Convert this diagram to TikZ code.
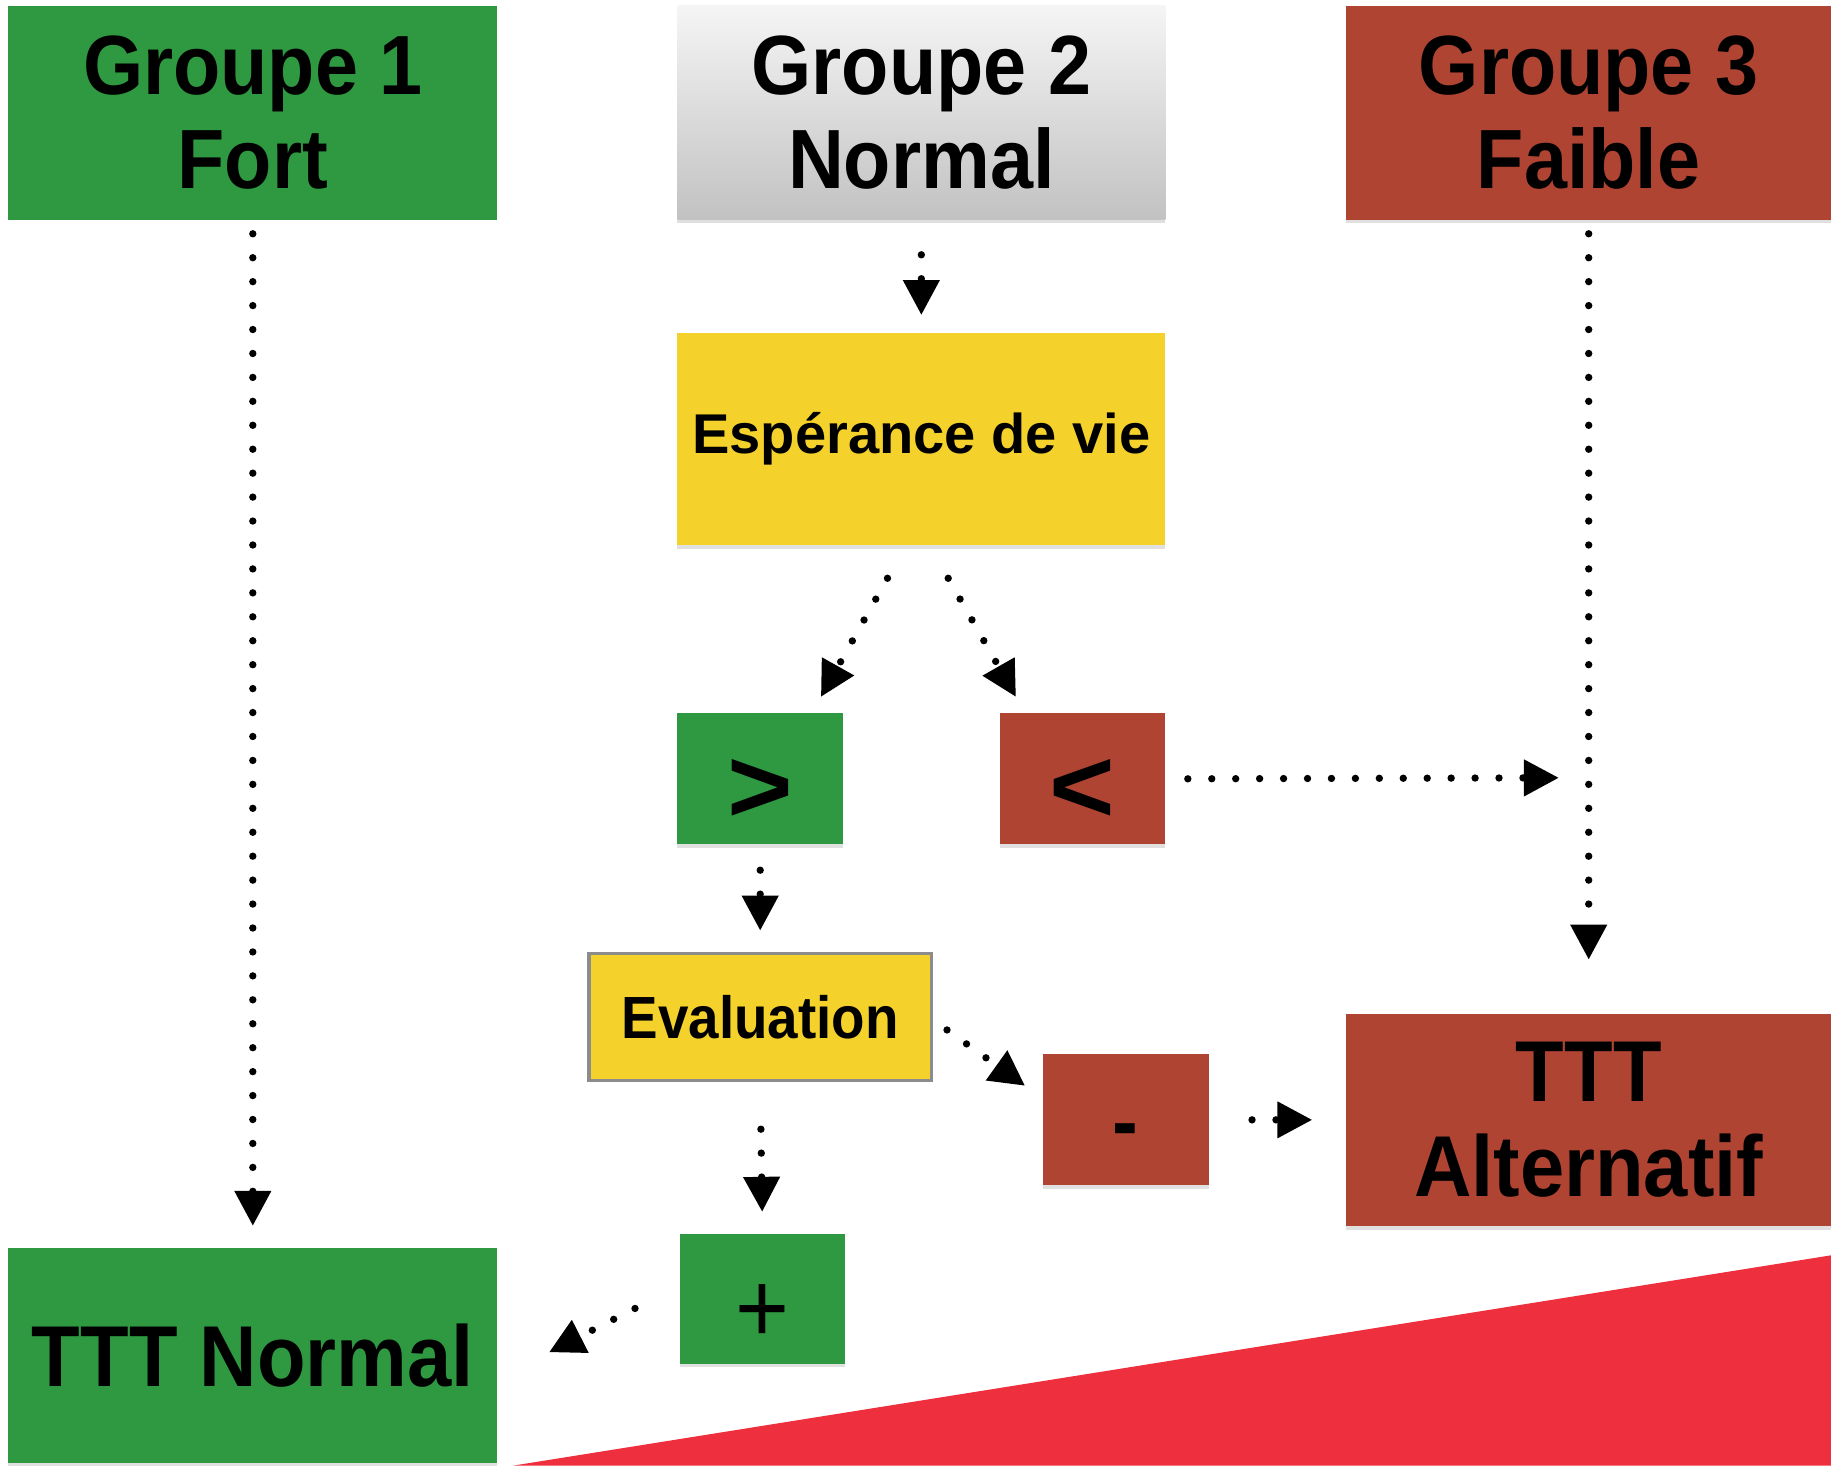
\documentclass[tikz,border=0pt]{standalone}
\usepackage{fontspec}
\setmainfont{Liberation Sans}[FakeStretch=0.92]
\newfontfamily\plainsans{Liberation Sans}
\newfontfamily\widesans{Liberation Sans}[FakeStretch=1.07]
\usetikzlibrary{arrows.meta,shadows,calc}
\definecolor{gGreen}{HTML}{2E9941}
\definecolor{gRed}{HTML}{B04433}
\definecolor{gYellow}{HTML}{F5D22B}
\definecolor{gBorder}{HTML}{8C8C8C}
\definecolor{triRed}{HTML}{EE303E}
\begin{document}
\begin{tikzpicture}[x=1pt,y=-1pt,
  box/.style={rectangle, inner sep=0pt, align=center, font=\bfseries\fontsize{72}{81}\selectfont},
  greenbox/.style={box, fill=gGreen},
  redbox/.style={box, fill=gRed},
  shad/.style={drop shadow={shadow xshift=0pt, shadow yshift=-3pt, opacity=0.12, fill=black}},
  symb/.style={text height=0pt, text depth=0pt},
  conn/.style={line width=6.3pt, line cap=round, dash pattern=on 0pt off 20.5pt,
    -{Triangle[length=30pt,width=30pt]}},
]
\useasboundingbox (0,0) rectangle (1568,1255);
\fill[triRed] (440,1255) -- (1568,1075) -- (1568,1255) -- cycle;

\node[greenbox, minimum width=419pt, minimum height=183pt] (g1) at (216.5,96.5) {Groupe 1\\Fort};
\node[box, shad, top color=white!96!black, bottom color=black!24, minimum width=418pt, minimum height=183pt] (g2) at (789,96.5) {Groupe 2\\Normal};
\node[redbox, shad, minimum width=415pt, minimum height=183pt] (g3) at (1360.5,96.5) {Groupe 3\\Faible};

\node[box, shad, fill=gYellow, minimum width=418pt, minimum height=182pt, font=\plainsans\bfseries\fontsize{48}{56}\selectfont] (esp) at (789,376) {Espérance de vie};

\node[greenbox, shad, symb, minimum width=142pt, minimum height=112pt, font=\widesans\bfseries\fontsize{90}{90}\selectfont] (gt) at (651,667) {\raisebox{-37pt}{>}};
\node[redbox, shad, symb, minimum width=142pt, minimum height=112pt, font=\widesans\bfseries\fontsize{90}{90}\selectfont] (lt) at (927,667) {\raisebox{-37pt}{<}};

\node[box, fill=gYellow, draw=gBorder, line width=3pt, minimum width=293pt, minimum height=109pt, font=\bfseries\fontsize{51}{58}\selectfont] (eval) at (651,871) {Evaluation};

\node[redbox, shad, symb, minimum width=142pt, minimum height=112pt] (minus) at (964,959) {\raisebox{-26pt}{-}};
\node[greenbox, shad, symb, minimum width=142pt, minimum height=111pt, font=\mdseries\fontsize{86}{86}\selectfont] (plus) at (653,1112.5) {\raisebox{-37pt}{+}};

\node[redbox, shad, minimum width=415pt, minimum height=182pt, font=\bfseries\fontsize{74}{81}\selectfont] (tta) at (1360.5,959) {TTT\\Alternatif};
\node[greenbox, shad, minimum width=419pt, minimum height=184pt, font=\bfseries\fontsize{74}{81}\selectfont] (ttn) at (216.5,1161) {TTT Normal};

\coordinate (join) at (1362,666);

\draw[conn, shorten <=12pt, shorten >=19pt] (g1) -- (ttn);
\draw[conn, shorten <=30pt, shorten >=15pt] (g2) -- (esp);
\draw[conn, shorten <=12pt, shorten >=46pt] (g3) -- (tta);
\draw[conn] ([xshift=-29pt,yshift=-28pt]esp.south) -- ([xshift=52pt,yshift=14pt]gt.north);
\draw[conn] ([xshift=23pt,yshift=-28pt]esp.south) -- ([xshift=-57pt,yshift=14pt]lt.north);
\draw[conn, shorten <=19pt, shorten >=27pt] (lt.east) -- (join);
\draw[conn, shorten <=22pt, shorten >=18pt] (gt.south) -- (eval.north);
\draw[conn] ([xshift=12pt,yshift=-11pt]eval.east) -- ([xshift=-15pt,yshift=-27pt]minus.north west);
\draw[conn, shorten <=40pt, shorten >=19pt] (eval.south) -- (plus.north);
\draw[conn, shorten <=37pt, shorten >=29pt] (minus.east) -- (tta.west);
\draw[conn] ([xshift=-38pt,yshift=-8pt]plus.west) -- ([xshift=44pt,yshift=3pt]ttn.east);
\end{tikzpicture}
\end{document}
